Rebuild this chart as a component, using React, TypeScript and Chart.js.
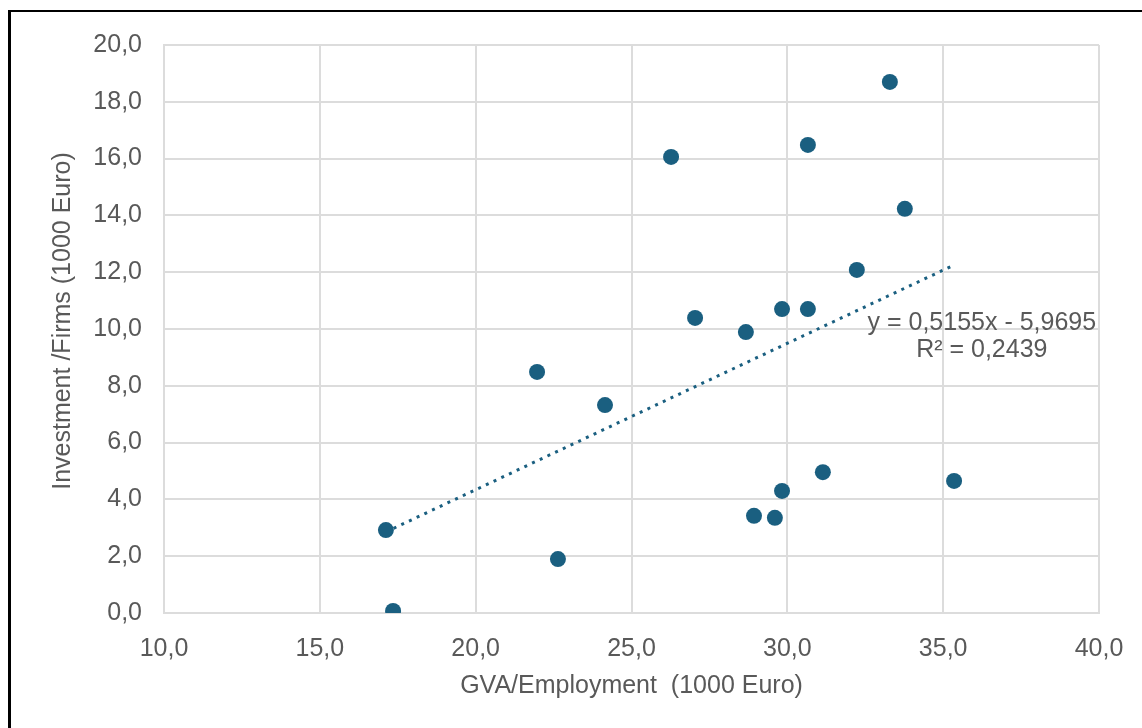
import React, { useEffect, useRef } from "react";
import { Chart, registerables } from "chart.js";

Chart.register(...registerables);

// GVA/Employment (1000 Euro)
const gvaPerEmployment = [
  17.12, 17.35, 21.97, 22.64, 24.15, 26.27, 27.04, 28.67, 28.93, 29.6,
  29.83, 29.83, 30.66, 30.66, 31.14, 32.23, 33.29, 33.77, 35.35,
];
// Investment / Firms (1000 Euro)
const investmentPerFirm = [
  2.92, 0.07, 8.49, 1.9, 7.32, 16.06, 10.39, 9.89, 3.42, 3.35,
  10.7, 4.3, 10.7, 16.48, 4.96, 12.08, 18.7, 14.23, 4.65,
];

const trendSlope = 0.5155;
const trendIntercept = -5.9695;
const equationLines = ["y = 0,5155x - 5,9695", "R² = 0,2439"];

const xTitle = "GVA/Employment  (1000 Euro)";
const yTitle = "Investment /Firms (1000 Euro)";

const FONT = "'Liberation Sans', Arial, sans-serif";
const TEXT = "#595959";
const GRID = "#dcdcdc";
const DOT = "#1a5f80";

const fmt = (v: number | string) => Number(v).toFixed(1).replace(".", ",");

export default function App() {
  const ref = useRef<HTMLCanvasElement | null>(null);

  useEffect(() => {
    if (!ref.current) return;
    const points = gvaPerEmployment.map((x, i) => ({ x, y: investmentPerFirm[i] }));
    const minX = Math.min(...gvaPerEmployment);
    const maxX = Math.max(...gvaPerEmployment);
    const trend = [
      { x: minX, y: trendSlope * minX + trendIntercept },
      { x: maxX, y: trendSlope * maxX + trendIntercept },
    ];

    const textPlugin = {
      id: "texts",
      afterDatasetsDraw(chart: any) {
        const { ctx, scales, chartArea } = chart;
        const px = scales.x.getPixelForValue(36.24);
        const py = scales.y.getPixelForValue(10.2);
        ctx.save();
        ctx.font = `25px ${FONT}`;
        ctx.fillStyle = TEXT;
        ctx.textAlign = "center";
        ctx.textBaseline = "middle";
        equationLines.forEach((t, i) => ctx.fillText(t, px, py + i * 27));
        // y axis title
        ctx.translate(52, (chartArea.top + chartArea.bottom) / 2 - 8);
        ctx.rotate(-Math.PI / 2);
        ctx.fillText(yTitle, 0, 0);
        ctx.restore();
      },
    };

    const chart = new Chart(ref.current, {
      type: "scatter",
      data: {
        datasets: [
          {
            data: points,
            backgroundColor: DOT,
            borderWidth: 0,
            pointRadius: 8,
            pointHoverRadius: 8,
            order: 0,
          },
          {
            type: "line",
            data: trend,
            borderColor: DOT,
            borderWidth: 3,
            borderDash: [3, 5.5],
            borderCapStyle: "butt",
            pointRadius: 0,
            fill: false,
            order: 1,
          } as any,
        ],
      },
      options: {
        animation: false,
        responsive: false,
        layout: { padding: { top: 33, right: 43, left: 0, bottom: 0 } },
        plugins: {
          legend: { display: false },
          tooltip: { enabled: false },
        },
        scales: {
          x: {
            type: "linear",
            min: 10,
            max: 40,
            afterFit: (s: any) => {
              s.height = 115;
              s.paddingLeft = 0;
              s.paddingRight = 0;
            },
            ticks: {
              stepSize: 5,
              padding: 21,
              color: TEXT,
              font: { family: FONT, size: 25 },
              callback: (v: any) => fmt(v),
            },
            grid: { color: GRID, lineWidth: 2, drawTicks: false },
            border: { color: GRID, width: 2 },
            title: {
              display: true,
              text: xTitle,
              color: TEXT,
              font: { family: FONT, size: 25 },
              padding: { top: 0, bottom: 27 },
            },
          },
          y: {
            type: "linear",
            min: 0,
            max: 20,
            afterFit: (s: any) => {
              s.width = 153;
              s.paddingTop = 0;
              s.paddingBottom = 0;
            },
            ticks: {
              stepSize: 2,
              padding: 22,
              color: TEXT,
              font: { family: FONT, size: 25 },
              callback: (v: any) => fmt(v),
            },
            grid: { color: GRID, lineWidth: 2, drawTicks: false },
            border: { color: GRID, width: 2 },
            title: { display: false },
          },
        },
      },
      plugins: [textPlugin],
    } as any);
    return () => chart.destroy();
  }, []);

  return (
    <div
      style={{
        position: "fixed",
        left: 8,
        top: 10,
        width: 1140,
        height: 720,
        boxSizing: "border-box",
        borderTop: "2px solid #000",
        borderLeft: "3px solid #000",
        background: "#fff",
      }}
    >
      <canvas ref={ref} width={1131} height={716} style={{ display: "block" }} />
    </div>
  );
}
